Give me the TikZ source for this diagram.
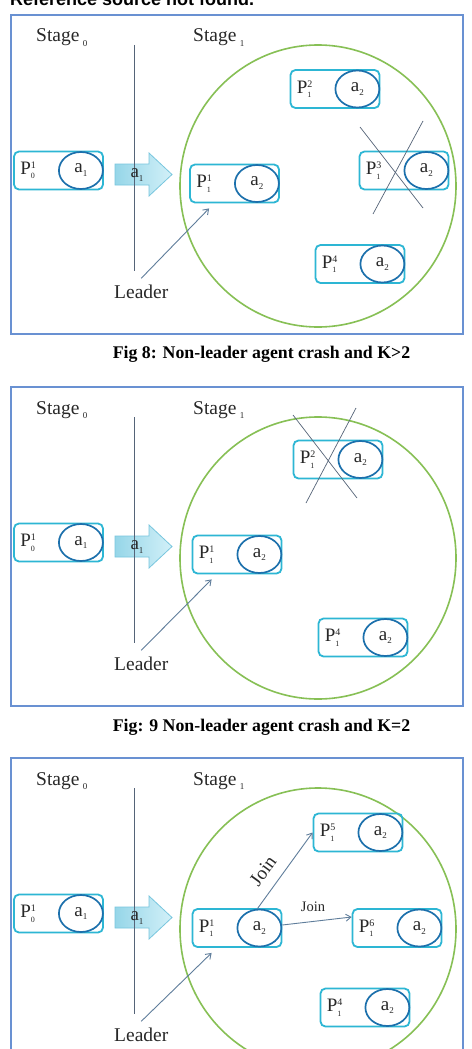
\documentclass[tikz,border=0pt]{standalone}
\usepackage{fontspec}
\setmainfont{Liberation Serif}
\newfontfamily\sansb{Liberation Sans}
\usetikzlibrary{arrows.meta,shapes.geometric}
\definecolor{panelblue}{RGB}{105,145,210}
\definecolor{boxcyan}{RGB}{45,182,212}
\definecolor{ellblue}{RGB}{28,112,172}
\definecolor{circgreen}{RGB}{135,192,85}
\definecolor{grayarrow}{RGB}{95,125,155}
\definecolor{vline}{RGB}{85,100,120}
\definecolor{txt}{RGB}{40,40,40}
\definecolor{arrL}{RGB}{150,214,232}
\definecolor{arrR}{RGB}{210,240,248}
\definecolor{arrB}{RGB}{120,198,222}
\newcommand\Plab[2]{P\makebox[0pt][l]{\raisebox{0.7ex}{\fontsize{10}{10}\selectfont#2}}\raisebox{-0.5ex}{\fontsize{8}{8}\selectfont#1}\hspace{1pt}}
\newcommand\sbs[1]{\raisebox{-0.45ex}{\fontsize{9}{9}\selectfont#1}}
\newcommand\agent[6]{%
  \node[agentbox] (#1) at (#2,#3) {};
  \node[agentell] (#1-a) at ([xshift=-23pt]#1.east) {a\sbs{#6}};
  \node[plab] (#1-p) at ([xshift=6pt]#1.west) {\Plab{#4}{#5}};
}
\newcommand\commonpanel[1]{%
  \draw[panel] (11,15) rectangle (463,334);
  \node[stage] (#1s0) at (35,42) {Stage\,\sbs{0}};
  \node[stage] (#1s1) at (192,42) {Stage\,\sbs{1}};
  \node[circ] (#1circ) at (318,186) {};
  \agent{#1P0}{58.5}{170.5}{0}{1}{1}
  \shade[left color=arrL,right color=arrR,draw=arrB,line width=0.8pt]
    (115,164) -- (149,164) -- (149,153) -- (172,174.5) -- (149,196) -- (149,185) -- (115,185) -- cycle;
  \coordinate (#1vt) at (134,45);
  \coordinate (#1vb) at (134,271);
  \draw[vl] (#1vt) -- (#1vb);
  \node[lbl] (#1arr) at (137,175) {a\sbs{1}};
  \node[stage] (#1lead) at (113,298) {Leader};
}
\begin{document}
\begin{tikzpicture}[x=1pt,y=-1pt,
  panel/.style={draw=panelblue,line width=1.4pt},
  agentbox/.style={draw=boxcyan,line width=1.8pt,rounded corners=5pt,minimum width=89pt,minimum height=38pt,inner sep=0pt},
  agentell/.style={draw=ellblue,line width=1.7pt,ellipse,minimum width=44pt,minimum height=37pt,inner sep=0pt,font=\fontsize{19}{19}\selectfont,text=txt},
  plab/.style={anchor=west,inner sep=1pt,font=\fontsize{19}{19}\selectfont,text=txt},
  lbl/.style={inner sep=1pt,font=\fontsize{19}{19}\selectfont,text=txt},
  stage/.style={anchor=base west,inner sep=1pt,font=\fontsize{19.5}{19.5}\selectfont,text=txt},
  circ/.style={draw=circgreen,line width=1.6pt,ellipse,minimum width=276pt,minimum height=282pt,inner sep=0pt},
  vl/.style={draw=vline,line width=0.9pt},
  crossl/.style={draw=vline,line width=0.7pt},
  garrowst/.style={draw=grayarrow,line width=0.9pt,-{Straight Barb[length=5pt,width=7pt]}},
  capt/.style={font=\fontsize{17.8}{17.8}\selectfont\bfseries,text=black,inner sep=1pt},
  joinlbl/.style={inner sep=1pt,text=txt}
]
\useasboundingbox (0,0) rectangle (471,1049);
\fill[white] (0,0) rectangle (471,1049);
\node[anchor=base west,inner sep=0pt,font=\sansb\bfseries\fontsize{18}{18}\selectfont] (top) at (10,6) {Reference source not found.};

% ---------- Panel 1 ----------
\begin{scope}
  \commonpanel{A}
  \agent{AP11}{234.5}{183.5}{1}{1}{2}
  \agent{AP12}{335}{89}{1}{2}{2}
  \agent{AP13}{404}{170.5}{1}{3}{2}
  \agent{AP14}{360}{264}{1}{4}{2}
  \draw[crossl] (360,127) -- (423,208);
  \draw[crossl] (423,121) -- (373,214);
  \draw[garrowst] ([yshift=5pt]Alead.north) -- ([xshift=20pt,yshift=-5pt]AP11.south west);
\end{scope}
\node[capt] (capA) at (261.5,354) {Fig 8: Non-leader agent crash and K>2};

% ---------- Panel 2 ----------
\begin{scope}[shift={(0,372)}]
  \commonpanel{B}
  \agent{BP11}{237}{182.5}{1}{1}{2}
  \agent{BP12}{338}{87.5}{1}{2}{2}
  \agent{BP14}{363}{265.5}{1}{4}{2}
  \draw[crossl] (293,43) -- (357,126);
  \draw[crossl] (356,36) -- (306,131);
  \draw[garrowst] ([yshift=5pt]Blead.north) -- ([xshift=20pt,yshift=-5pt]BP11.south west);
\end{scope}
\node[capt] (capB) at (261.5,727) {Fig: 9 Non-leader agent crash and K=2};

% ---------- Panel 3 ----------
\begin{scope}[shift={(0,743)}]
  \commonpanel{C}
  \agent{CP11}{237}{185}{1}{1}{2}
  \agent{CP15}{358}{89.5}{1}{5}{2}
  \agent{CP16}{397}{185}{1}{6}{2}
  \agent{CP14}{365}{264.5}{1}{4}{2}
  \draw[garrowst] ([yshift=5pt]Clead.north) -- ([xshift=20pt,yshift=-5pt]CP11.south west);
  \draw[garrowst] ([xshift=-2pt]CP11-a.north) -- (CP15.west);
  \draw[garrowst] ([yshift=3pt]CP11-a.east) -- ([yshift=11pt]CP16.west);
  \node[joinlbl,font=\fontsize{19}{19}\selectfont,rotate=54] (j1) at (263,128) {Join};
  \node[joinlbl,font=\fontsize{14.5}{14.5}\selectfont] (j2) at (313,164) {Join};
\end{scope}
\end{tikzpicture}
\end{document}
